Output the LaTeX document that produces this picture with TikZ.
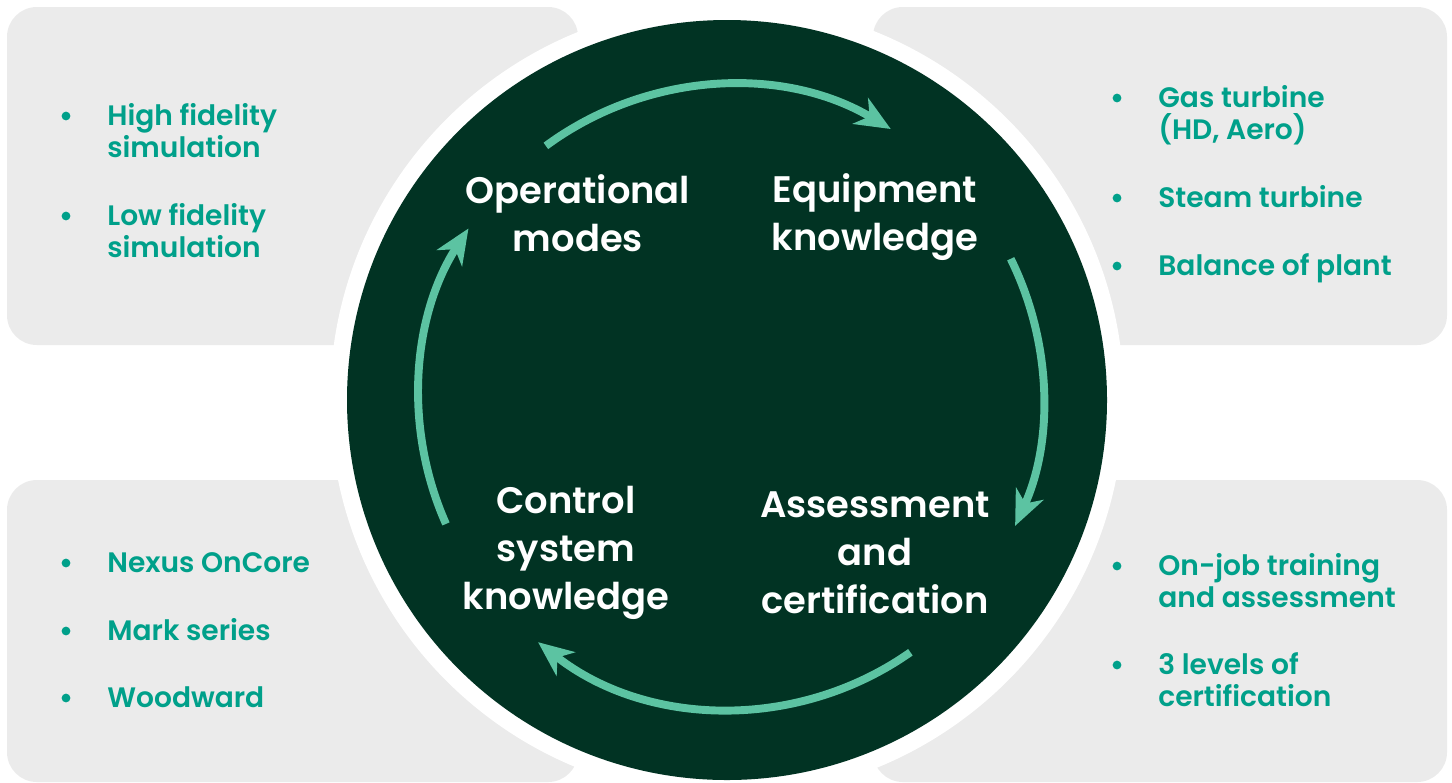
\documentclass[tikz,border=0pt]{standalone}
\usepackage{fontspec}
\setmainfont{Poppins}[UprightFont=* SemiBold, BoldFont=* Bold]
\usetikzlibrary{arrows.meta, positioning}

\definecolor{panelgray}{HTML}{EBEBEB}
\definecolor{deepgreen}{HTML}{013323}
\definecolor{mint}{HTML}{5CC3A2}
\definecolor{tealtext}{HTML}{00A08A}

\tikzset{
  panel/.style={fill=panelgray, rounded corners=17pt},
  stage/.style={text=white, font=\fontsize{21}{27.2}\selectfont, align=center},
  item/.style={text=tealtext, font=\fontsize{16}{18.1}\selectfont, align=left, anchor=base west, inner sep=0pt},
  dot/.style={circle, fill=tealtext, inner sep=0pt, minimum size=5pt},
  cycle/.style={mint, line width=4.5pt, -{Stealth[length=20pt, width=17pt, inset=6pt]}},
}

\begin{document}
\begin{tikzpicture}[x=0.02cm, y=-0.02cm]
    \useasboundingbox (0,0) rectangle (1452,782);
    % grey panels behind the ring
    \begin{scope}
        \clip (0,0) rectangle (1452,782);
        \fill [panel] (7,7) rectangle (578,345);
        \fill [panel] (873,7) rectangle (1447,345);
        \fill [panel] (7,480) rectangle (578,782);
        \fill [panel] (873,480) rectangle (1447,782);
    \end{scope}
    \fill [white] (727,400) circle (397);
    \fill [deepgreen] (727,400) circle (380);

    % the four stages
    \node [stage] (ops) at (578,213) {Operational\\modes};
    \node [stage] (equip) at (875,217) {Equipment\\knowledge};
    \node [stage] (assess) at (875,553) {Assessment\\and\\certification};
    \node [stage] (ctrl) at (566,553) {Control\\system\\knowledge};

    % cycle arrows
    \coordinate (hub) at (731,397);
    \draw [cycle] (hub) ++(233.6:312) arc [start angle=233.6, end angle=300.8, radius=312];
    \draw [cycle] (hub) ++(333.7:312) arc [start angle=333.7, end angle=384.4, radius=312];
    \draw [cycle] (hub) ++(54.9:312) arc [start angle=54.9, end angle=128.2, radius=312];
    \draw [cycle] (hub) ++(156:312) arc [start angle=156, end angle=212.7, radius=312];

    % bullet lists (y = last baseline, b = bullet height)
    \foreach \nm/\x/\y/\b/\txt in {
        hf/107/157/116/{High fidelity\\simulation},
        lf/107/257/216/{Low fidelity\\simulation},
        gt/1158/139/98/{Gas turbine\\(HD, Aero)},
        st/1158/207/198/{Steam turbine},
        bop/1158/275/266/{Balance of plant},
        nx/107/572/563/{Nexus OnCore},
        mk/107/640/631/{Mark series},
        ww/107/707/698/{Woodward},
        oj/1158/607/566/{On-job training\\and assessment},
        lv/1158/706/665/{3 levels of\\certification}} {
        \node [item] (\nm) at (\x,\y) {\txt};
        \node [dot] (\nm-dot) at (\x-41,\b) {};
    }
\end{tikzpicture}
\end{document}
